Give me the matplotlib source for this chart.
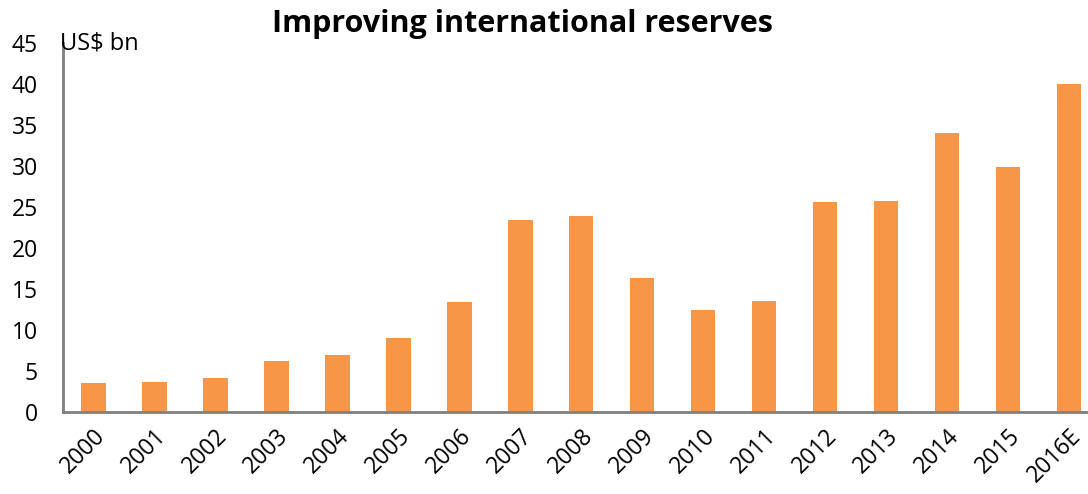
import matplotlib.pyplot as plt

plt.rcParams['font.family'] = ['Open Sans', 'DejaVu Sans']

years = ['2000', '2001', '2002', '2003', '2004', '2005', '2006', '2007', '2008',
         '2009', '2010', '2011', '2012', '2013', '2014', '2015', '2016E']
reserves = [3.5, 3.7, 4.1, 6.2, 7.0, 9.0, 13.4, 23.5, 23.9,
            16.4, 12.4, 13.5, 25.6, 25.8, 34.1, 29.9, 40.0]
yticks = [0, 5, 10, 15, 20, 25, 30, 35, 40, 45]

fig = plt.figure(figsize=(10.88, 4.94), dpi=100)
ax = fig.add_axes([63 / 1088, 82 / 494, 1025 / 1088, 368.5 / 494])

ax.bar(range(len(years)), reserves, width=0.4, color='#F79646')

ax.set_xlim(-0.5, 16.31)
ax.set_ylim(0, 45)
ax.set_yticks(yticks)
ax.set_xticks(range(len(years)))
ax.set_xticklabels(years, rotation=45, ha='right', rotation_mode='anchor')
ax.tick_params(axis='both', length=0, labelsize=16.5)
ax.tick_params(axis='y', pad=18)
ax.tick_params(axis='x', pad=9)

for s in ['top', 'right']:
    ax.spines[s].set_visible(False)
for s in ['left', 'bottom']:
    ax.spines[s].set_color('#808080')
    ax.spines[s].set_linewidth(2)

ax.text(-0.55, 45, 'US$ bn', fontsize=17, va='center', ha='left')
fig.text(0.48, 0.952, 'Improving international reserves', fontsize=22,
         fontweight='bold', ha='center', va='center')

fig.savefig('out.png', dpi=100)
